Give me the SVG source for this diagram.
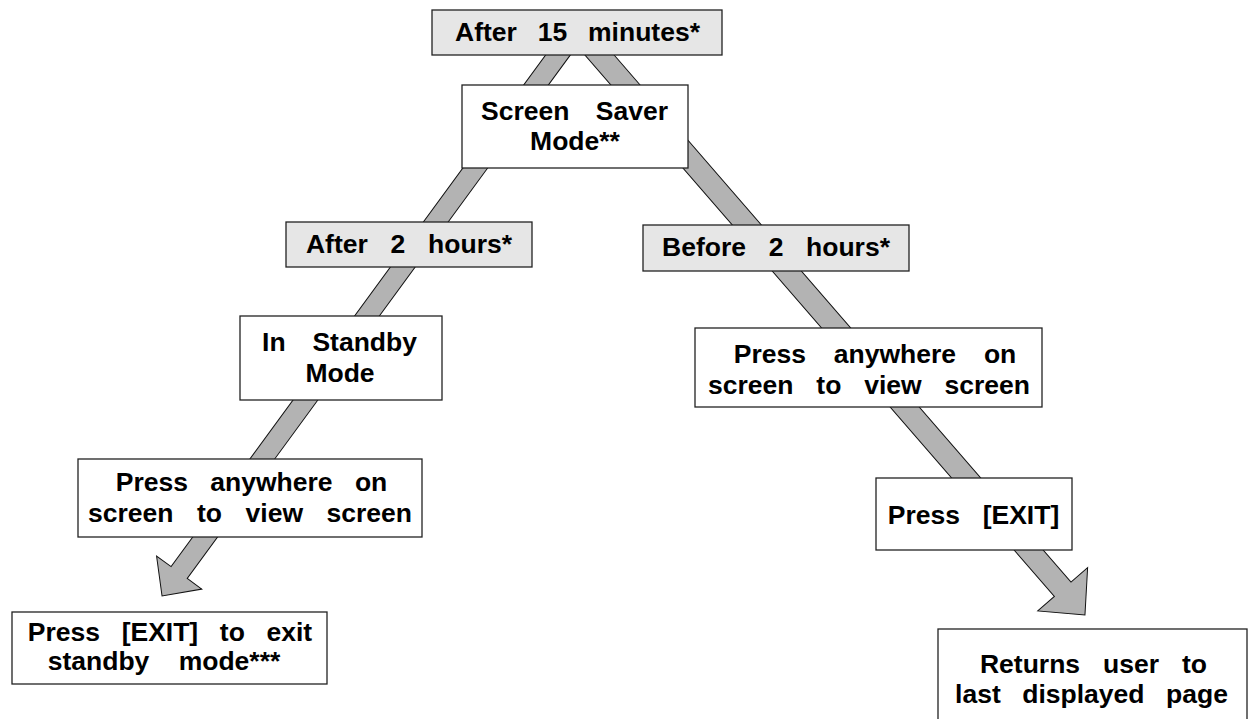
<svg xmlns="http://www.w3.org/2000/svg" width="1248" height="719" viewBox="0 0 1248 719">
<style>
.box{fill:#ffffff;stroke:#222222;stroke-width:1.3}
.gbox{fill:#e6e6e6;stroke:#222222;stroke-width:1.3}
.arrow{fill:#b3b3b3;stroke:#111111;stroke-width:1}
text{font-family:"Liberation Sans",Arial,sans-serif;font-weight:bold;font-size:26.5px;fill:#000;text-anchor:middle}
</style>
<rect width="1248" height="719" fill="#ffffff"/>
<g id="connectors">
  <g transform="translate(577,29) rotate(126.2)">
    <polygon class="arrow" points="0,-10 673.6,-10 673.6,-28 702.6,0 673.6,28 673.6,10 0,10"/>
  </g>
  <g transform="translate(577,29) rotate(49.08)">
    <polygon class="arrow" points="0,-11 741.5,-11 741.5,-33 775.5,0 741.5,33 741.5,11 0,11"/>
  </g>
</g>
<g id="n1">
  <rect class="gbox" x="432" y="10" width="290" height="45"/>
  <text x="577.5" y="41" word-spacing="13.5">After 15 minutes*</text>
</g>
<g id="n2">
  <rect class="box" x="462" y="85" width="226" height="83"/>
  <text x="574.5" y="120" word-spacing="19">Screen Saver</text>
  <text x="575" y="150">Mode**</text>
</g>
<g id="n3">
  <rect class="gbox" x="286" y="222" width="246" height="45"/>
  <text x="409" y="253" word-spacing="15.4">After 2 hours*</text>
</g>
<g id="n4">
  <rect class="gbox" x="643" y="225" width="266" height="46"/>
  <text x="776" y="256" word-spacing="15.3">Before 2 hours*</text>
</g>
<g id="n5">
  <rect class="box" x="240" y="316" width="202" height="84"/>
  <text x="339.5" y="351" word-spacing="19.5">In Standby</text>
  <text x="340" y="382">Mode</text>
</g>
<g id="n6">
  <rect class="box" x="78" y="459" width="344" height="78"/>
  <text x="251.5" y="491" word-spacing="15">Press anywhere on</text>
  <text x="250" y="522" word-spacing="16.2">screen to view screen</text>
</g>
<g id="n7">
  <rect class="box" x="12" y="612" width="315" height="72"/>
  <text x="170" y="641" word-spacing="14.3">Press [EXIT] to exit</text>
  <text x="164" y="670" word-spacing="22">standby mode***</text>
</g>
<g id="n8">
  <rect class="box" x="695" y="328" width="347" height="79"/>
  <text x="875" y="363" word-spacing="20.5">Press anywhere on</text>
  <text x="869" y="394" word-spacing="15.5">screen to view screen</text>
</g>
<g id="n9">
  <rect class="box" x="876" y="478" width="196" height="72"/>
  <text x="973.5" y="524" word-spacing="15.4">Press [EXIT]</text>
</g>
<g id="n10">
  <rect class="box" x="938" y="629" width="309" height="100"/>
  <text x="1093.5" y="673" word-spacing="15.6">Returns user to</text>
  <text x="1091.5" y="703" word-spacing="14.2">last displayed page</text>
</g>
</svg>
